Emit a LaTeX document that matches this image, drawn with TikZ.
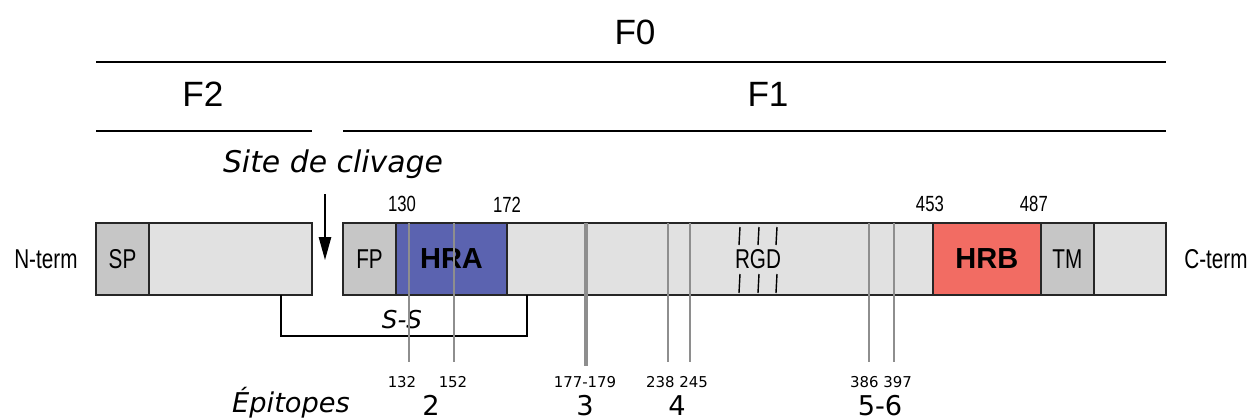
\documentclass[tikz,border=0pt]{standalone}
\usepackage{fontspec}
\setmainfont{Liberation Sans}
\newfontfamily\narrowfont[FakeStretch=0.76]{Liberation Sans}
\newfontfamily\verdfont{DejaVu Sans}
\usepackage{xcolor}
\usetikzlibrary{arrows.meta, positioning}

\definecolor{segLight}{HTML}{E1E1E1}
\definecolor{segMid}{HTML}{C6C6C6}
\definecolor{hraBlue}{HTML}{5B63B0}
\definecolor{hrbRed}{HTML}{F26C63}
\definecolor{epiGray}{HTML}{8E8E8E}

\newcommand{\segfont}{\narrowfont\fontsize{15.5}{18}\selectfont}
\newcommand{\posfont}{\narrowfont\fontsize{12.5}{15}\selectfont}
\newcommand{\fragfont}{\fontsize{20}{24}\selectfont}
\newcommand{\notefont}{\verdfont\itshape\fontsize{15.5}{18}\selectfont}
\newcommand{\epinum}{\verdfont\fontsize{8.5}{10}\selectfont}
\newcommand{\epibig}{\verdfont\fontsize{15.5}{18}\selectfont}

\begin{document}
\begin{tikzpicture}[x=0.02cm, y=-0.02cm, >=Stealth]
    \tikzstyle{seg} = [rectangle, draw=black!85, line width=1pt, minimum height=1.44cm, inner sep=0pt, outer sep=0pt, font=\segfont]
    \tikzstyle{frag} = [anchor=base, font=\fragfont]
    \tikzstyle{posnum} = [inner sep=0pt, font=\posfont]
    \tikzstyle{rule} = [line width=0.8pt]
    \tikzstyle{epi} = [draw=epiGray, line width=1.2pt]
    \tikzstyle{group} = [anchor=base, inner sep=0pt, font=\epibig]

    \useasboundingbox (0,0) rectangle (1252,419);

    % Fragments
    \node (f0) [frag] at (635,44) {F0};
    \node (f2) [frag] at (203,106) {F2};
    \node (f1) [frag] at (768,106) {F1};

    % Precursor: F2 part
    \node (sp) [seg, fill=segMid, minimum width=1.06cm] at (122.5,259) {SP};
    \node (n2) [seg, fill=segLight, minimum width=3.26cm, right=0pt of sp] {};

    % F1 part
    \node (fp) [seg, fill=segMid, minimum width=1.06cm] at (369.5,259) {FP};
    \node (hra) [seg, fill=hraBlue, minimum width=2.22cm, right=0pt of fp, font=\fontsize{16.5}{18}\selectfont\bfseries] {HRA};
    \node (mid) [seg, fill=segLight, minimum width=8.52cm, right=0pt of hra] {};
    \node (hrb) [seg, fill=hrbRed, minimum width=2.16cm, right=0pt of mid, font=\fontsize{16.5}{18}\selectfont\bfseries] {HRB};
    \node (tm) [seg, fill=segMid, minimum width=1.06cm, right=0pt of hrb] {TM};
    \node (ct) [seg, fill=segLight, minimum width=1.44cm, right=0pt of tm] {};

    \node (nterm) [font=\segfont, left=7pt of sp] {N-term};
    \node (cterm) [font=\segfont, right=7pt of ct] {C-term};

    % Fragment rules
    \draw[rule] (sp.west |- 0,62) -- (ct.east |- 0,62);
    \draw[rule] (sp.west |- 0,131) -- (n2.east |- 0,131);
    \draw[rule] (fp.west |- 0,131) -- (ct.east |- 0,131);

    % Positions
    \node (p130) [posnum, above=6pt of hra.north west, xshift=0.12cm] {130};
    \node (p172) [posnum, above=6pt of hra.north east] {172};
    \node (p453) [posnum, above=6pt of hrb.north west, xshift=-0.06cm] {453};
    \node (p487) [posnum, above=6pt of hrb.north east, xshift=-0.14cm] {487};

    % Cleavage site
    \node (site) [anchor=base, font=\notefont\fontsize{17}{20}\selectfont] at (333,172) {Site de clivage};
    \coordinate (cleave) at (325,260);
    \draw[-{Triangle[length=13pt, width=7pt]}, line width=0.8pt] (site.south -| cleave) ++(0,10) -- (cleave);

    % Disulfide bridge
    \draw[line width=0.8pt] ([xshift=-0.62cm]n2.south east) -- ++(0,-0.82cm) -| ([xshift=0.4cm]mid.south west);
    \node (ss) [anchor=base, font=\notefont\fontsize{14}{16}\selectfont] at (402,328) {S-S};

    % RGD motif
    \node (rgd) [font=\segfont] at (758,259) {RGD};
    \foreach \xx in {739,758,776} {
        \draw[line width=0.8pt] (\xx+1,227) -- (\xx,245);
        \draw[line width=0.8pt] (\xx+1,274) -- (\xx,293);
    }

    % Epitopes
    \coordinate (e132) at (409,362);
    \coordinate (e152) at (454,362);
    \coordinate (e177) at (586,366);
    \coordinate (e238) at (668,362);
    \coordinate (e245) at (690,362);
    \coordinate (e386) at (869,362);
    \coordinate (e397) at (894,362);
    \foreach \e in {e132,e152,e238,e245,e386,e397}
        \draw[epi] (\e |- fp.north) -- (\e);
    \draw[epi, line width=2.4pt] (e177 |- fp.north) -- (e177);

    \node (l132) [anchor=base, font=\epinum] at (402,387) {132};
    \node (l152) [anchor=base, font=\epinum] at (453,387) {152};
    \node (l177) [anchor=base, font=\epinum] at (585,387) {177-179};
    \node (l238) [anchor=base, font=\epinum] at (677,387) {238 245};
    \node (l386) [anchor=base, font=\epinum] at (881,387) {386 397};

    \node (epit) [anchor=base, inner sep=0pt, font=\notefont] at (291,412) {Épitopes};
    \node (g2) [group] at (431,415) {2};
    \node (g3) [group] at (585,415) {3};
    \node (g4) [group] at (677,415) {4};
    \node (g56) [group] at (880,415) {5-6};
\end{tikzpicture}
\end{document}
